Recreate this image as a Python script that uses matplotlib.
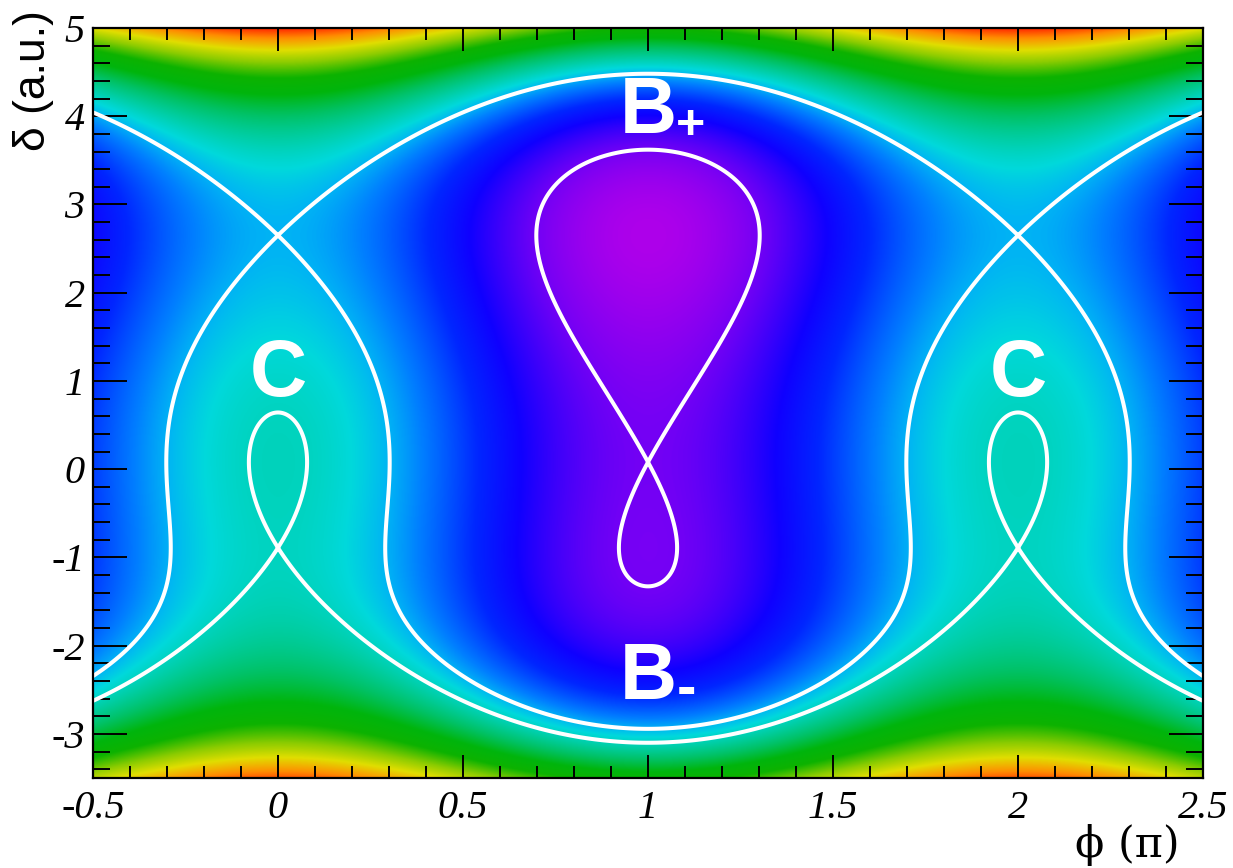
import numpy as np
import matplotlib
matplotlib.use('Agg')
import matplotlib.pyplot as plt
from matplotlib.colors import LinearSegmentedColormap

# ---------------- data ----------------
# fixed points of the longitudinal Hamiltonian along delta (r1, r2, r3)
fixed_point_delta = [-0.89, 0.08, 2.65]
# amplitude of the cos(phi) term (relative to the delta^4/4 term)
rf_amplitude = [15.3]
phi_range = [-0.5, 2.5]          # in units of pi
delta_range = [-3.5, 5.0]
x_ticks = [-0.5, 0, 0.5, 1, 1.5, 2, 2.5]
x_tick_labels = ['-0.5', '0', '0.5', '1', '1.5', '2', '2.5']
y_ticks = [-3, -2, -1, 0, 1, 2, 3, 4, 5]
y_tick_labels = ['-3', '-2', '-1', '0', '1', '2', '3', '4', '5']
x_label = '\u03d5 (\u03c0)'
y_label = '\u03b4 (a.u.)'
bucket_labels = ['B', '+', 'B', '-', 'C', 'C']

# ---------------- field ----------------
V = rf_amplitude[0]
fprime = np.poly(fixed_point_delta)      # f'(d) = (d-r1)(d-r2)(d-r3)
fpoly = np.polyint(fprime)               # f(d)

phi = np.linspace(phi_range[0], phi_range[1], 1501)
delta = np.linspace(delta_range[0], delta_range[1], 1201)
P, D = np.meshgrid(phi, delta)
H = np.polyval(fpoly, D) + V * np.cos(np.pi * P)

r1, r2, r3 = fixed_point_delta
lev_r3 = np.polyval(fpoly, r3) + V
lev_r1 = np.polyval(fpoly, r1) + V
lev_r2 = np.polyval(fpoly, r2) - V

# ROOT-like "pretty" palette (violet -> red)
anchors = [
    (0.00, (0.68, 0.00, 0.92)),
    (0.07, (0.45, 0.00, 0.96)),
    (0.16, (0.06, 0.00, 1.00)),
    (0.22, (0.00, 0.15, 1.00)),
    (0.30, (0.00, 0.50, 1.00)),
    (0.34, (0.00, 0.70, 0.96)),
    (0.38, (0.00, 0.85, 0.86)),
    (0.42, (0.00, 0.82, 0.70)),
    (0.50, (0.00, 0.76, 0.40)),
    (0.58, (0.00, 0.71, 0.05)),
    (0.66, (0.05, 0.70, 0.00)),
    (0.75, (0.55, 0.80, 0.00)),
    (0.83, (0.88, 0.87, 0.00)),
    (0.92, (1.00, 0.55, 0.00)),
    (1.00, (1.00, 0.15, 0.00)),
]
cmap = LinearSegmentedColormap.from_list('rootpretty', anchors, N=512)

# ---------------- figure ----------------
fig = plt.figure(figsize=(12.33, 8.68), dpi=100)
ax = fig.add_axes([0.0754, 0.1037, 0.9003, 0.864])

ax.imshow(H, extent=[phi[0], phi[-1], delta[0], delta[-1]], origin='lower',
          cmap=cmap, vmin=H.min(), vmax=H.max(), aspect='auto',
          interpolation='bilinear', zorder=1)

lw = 2.9
ckw = dict(colors='white', linewidths=lw, linestyles='solid', zorder=3)
ax.contour(P, D, H, levels=[lev_r3], **ckw)
ax.contour(P, D, H, levels=[lev_r2], **ckw)
Hm = np.ma.masked_where(D > 3.2, H)
ax.contour(P, D, Hm, levels=[lev_r1], **ckw)

ax.set_xlim(phi_range)
ax.set_ylim(delta_range)

ax.set_xticks(x_ticks)
ax.set_xticklabels(x_tick_labels)
ax.set_yticks(y_ticks)
ax.set_yticklabels(y_tick_labels)
ax.set_xticks(np.arange(-0.5, 2.5001, 0.1), minor=True)
ax.set_yticks(np.arange(-3.4, 5.0001, 0.2), minor=True)

for lab in ax.get_xticklabels() + ax.get_yticklabels():
    lab.set_fontfamily('Liberation Serif')
    lab.set_fontstyle('italic')
    lab.set_fontsize(29)

ax.tick_params(axis='both', which='both', direction='in', top=True, right=True,
               width=1.4, color='black')
ax.tick_params(axis='y', which='major', length=24.5, pad=6)
ax.tick_params(axis='y', which='minor', length=12.2)
ax.tick_params(axis='x', which='major', length=16.5, pad=9)
ax.tick_params(axis='x', which='minor', length=8.6)
for s in ax.spines.values():
    s.set_linewidth(1.6)
    s.set_zorder(4)

fig.text(34 / 1233, 1 - 10 / 868, y_label, rotation=90, ha='center', va='top',
         fontsize=32, family=['Liberation Sans', 'DejaVu Sans'])
fig.text(1180 / 1233, 1 - 866 / 868, x_label, ha='right', va='bottom',
         fontsize=31, family=['DejaVu Serif', 'Liberation Serif'])

lab_kw = dict(color='white', fontweight='bold', family='Liberation Sans',
              ha='center', va='baseline', zorder=5)
ax.text(1.0, 3.81, bucket_labels[0], fontsize=57, **lab_kw)
ax.text(1.116, 3.74, bucket_labels[1], fontsize=36, **lab_kw)
ax.text(1.0, -2.60, bucket_labels[2], fontsize=57, **lab_kw)
ax.text(1.103, -2.68, bucket_labels[3], fontsize=42, **lab_kw)
ax.text(0.0, 0.83, bucket_labels[4], fontsize=57, **lab_kw)
ax.text(2.0, 0.83, bucket_labels[5], fontsize=57, **lab_kw)

fig.savefig('out.png', dpi=100)
